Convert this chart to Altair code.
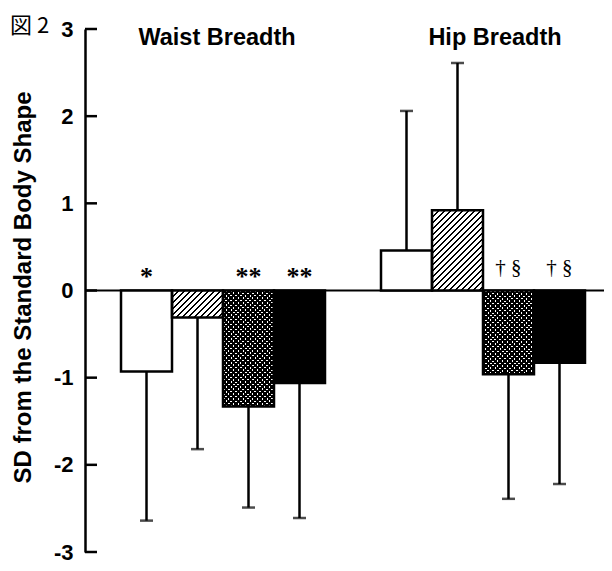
import altair as alt
import pandas as pd

# ---------------- data ----------------
fig_label = ["図 2"]
groups = ["Waist Breadth", "Hip Breadth"]
series = ["S1", "S2", "S3", "S4"]
waist_mean = [-0.93, -0.31, -1.33, -1.06]
waist_end = [-2.64, -1.82, -2.49, -2.61]
hip_mean = [0.46, 0.92, -0.96, -0.83]
hip_end = [2.06, 2.61, -2.39, -2.22]
waist_note = ["*", "", "**", "**"]
hip_note = ["", "", "† §", "† §"]
y_ticks = [-3, -2, -1, 0, 1, 2, 3]

# style per series
series_fill = ["white", "white", "white", "black"]
series_pattern = ["", "hatch", "cross", ""]

rows = []
for g, means, ends, notes in [
    (groups[0], waist_mean, waist_end, waist_note),
    (groups[1], hip_mean, hip_end, hip_note),
]:
    for s, m, e, n, pat in zip(series, means, ends, notes, series_pattern):
        rows.append(dict(group=g, series=s, mean=m, end=e, note=n, pattern=pat))
df = pd.DataFrame(rows)
tick_df = pd.DataFrame({"v": y_ticks})
group_df = pd.DataFrame({"group": groups})
label_df = pd.DataFrame({"label": fig_label})

# ---------------- layout ----------------
PAD_L, PAD_T, PAD_B = 77, 21, 11
W, H = 519, 523
P_INNER, P_OUTER, ALIGN = 0.2154, 0.1058, 0.6545
step = W / (len(groups) - P_INNER + 2 * P_OUTER)
bar_w = step * (1 - P_INNER) / len(series)
ppu = H / 6.0

FONT = "Liberation Sans"

xscale = alt.Scale(paddingInner=P_INNER, paddingOuter=P_OUTER, align=ALIGN)
yscale = alt.Scale(domain=[-3, 3], nice=False, zero=False)

yaxis = alt.Axis(
    values=y_ticks, ticks=False, grid=False,
    labelExpr="'' + datum.value",
    domainColor="black", domainWidth=2.5,
    labelFont=FONT, labelFontWeight="bold", labelFontSize=22, labelColor="black",
    labelPadding=12,
    title="SD from the Standard Body Shape",
    titleFont=FONT, titleFontWeight="bold", titleFontSize=24, titleColor="black",
    titleAngle=270, titleAlign="center", titleBaseline="alphabetic",
    titleX=-55, titleY=258,
)


def X():
    return alt.X("group:N", sort=groups, scale=xscale, axis=None)


def XO():
    return alt.XOffset("series:N", sort=series,
                       scale=alt.Scale(paddingInner=0, paddingOuter=0))


def Yf(field):
    return alt.Y(field, scale=yscale, axis=yaxis)


def Yd(value):
    return alt.Y(datum=value, scale=yscale, axis=yaxis)


def stripe_fill(w, h, period, frac, direction, on, off):
    L = w + h
    stops = []
    k = 0
    while k * period < L:
        a = k * period / L
        b = min((k * period + frac * period) / L, 1.0)
        c = min((k + 1) * period / L, 1.0)
        stops += [
            {"offset": round(a, 5), "color": on},
            {"offset": round(b, 5), "color": on},
            {"offset": round(b, 5), "color": off},
            {"offset": round(c, 5), "color": off},
        ]
        k += 1
    d = L / (w * w + h * h)
    if direction == "/":
        x1, y1, x2, y2 = 0, 0, d * w, d * h
    else:
        x1, y1, x2, y2 = 0, 1, d * w, 1 - d * h
    return {"gradient": "linear", "x1": x1, "y1": y1, "x2": x2, "y2": y2,
            "stops": stops}


layers = []

# zero line
layers.append(
    alt.Chart(tick_df).transform_filter("datum.v == 0")
    .mark_rule(color="black", strokeWidth=2)
    .encode(y=Yf("v:Q"))
)

# base bars
layers.append(
    alt.Chart(df).mark_bar()
    .encode(
        x=X(), xOffset=XO(),
        y=Yf("mean:Q"),
        y2=alt.datum(0),
        fill=alt.Fill("series:N", sort=series,
                      scale=alt.Scale(domain=series, range=series_fill),
                      legend=None),
    )
)

# pattern overlays
for _, r in df.iterrows():
    if not r["pattern"]:
        continue
    h = abs(r["mean"]) * ppu
    if r["pattern"] == "hatch":
        fills = [stripe_fill(bar_w, h, 6.0, 0.3, "/", "black", "white")]
    else:
        fills = [
            stripe_fill(bar_w, h, 4.8, 0.58, "/", "black", "rgba(255,255,255,0)"),
            stripe_fill(bar_w, h, 4.8, 0.58, "\\", "black", "rgba(255,255,255,0)"),
        ]
    for f in fills:
        layers.append(
            alt.Chart(df)
            .transform_filter(
                (alt.datum.group == r["group"]) & (alt.datum.series == r["series"])
            )
            .mark_bar(fill=f)
            .encode(x=X(), xOffset=XO(), y=Yf("mean:Q"), y2=alt.datum(0))
        )

# outlines
layers.append(
    alt.Chart(df).mark_bar(fill="white", fillOpacity=0, stroke="black", strokeWidth=2.5)
    .encode(x=X(), xOffset=XO(), y=Yf("mean:Q"), y2=alt.datum(0))
)

# error bars
layers.append(
    alt.Chart(df).mark_rule(color="black", strokeWidth=2.5)
    .encode(x=X(), xOffset=XO(), y=Yf("mean:Q"), y2="end:Q")
)
layers.append(
    alt.Chart(df).mark_tick(orient="horizontal", size=13, thickness=2.5, color="black")
    .encode(x=X(), xOffset=XO(), y=Yf("end:Q"))
)

# inward axis ticks
layers.append(
    alt.Chart(tick_df).mark_rule(color="black", strokeWidth=2.5)
    .encode(y=Yf("v:Q"), x=alt.value(0), x2=alt.value(12))
)

# significance marks
layers.append(
    alt.Chart(df).transform_filter("indexof(datum.note, '*') >= 0")
    .mark_text(font="Liberation Serif", fontSize=26, fontWeight="bold",
               baseline="alphabetic", dy=-6, color="black")
    .encode(x=X(), xOffset=XO(), y=Yd(0), text="note:N")
)
layers.append(
    alt.Chart(df).transform_filter("indexof(datum.note, '§') >= 0")
    .mark_text(font="Liberation Serif", fontSize=21,
               baseline="alphabetic", dy=-17, color="black")
    .encode(x=X(), xOffset=XO(), y=Yd(0), text="note:N")
)

# group titles
for g, dx in zip(groups, [-6, 12]):
    layers.append(
        alt.Chart(group_df).transform_filter(alt.datum.group == g)
        .mark_text(font=FONT, fontSize=23.5, fontWeight="bold", baseline="alphabetic",
                   dy=16, dx=dx, color="black")
        .encode(x=X(), y=Yd(3), text="group:N")
    )

# figure label
layers.append(
    alt.Chart(label_df)
    .mark_text(font="Noto Sans CJK JP", fontSize=22, align="left",
               baseline="alphabetic", color="black")
    .encode(x=alt.value(-75), y=alt.value(4), text="label:N")
)

chart = (
    alt.layer(*layers)
    .properties(
        width=W, height=H,
        autosize=alt.AutoSizeParams(type="none"),
        padding={"left": PAD_L, "top": PAD_T, "right": 0, "bottom": PAD_B},
    )
    .configure_view(strokeWidth=0)
)

chart.save("out.html", embed_options={"renderer": "svg", "actions": False})
